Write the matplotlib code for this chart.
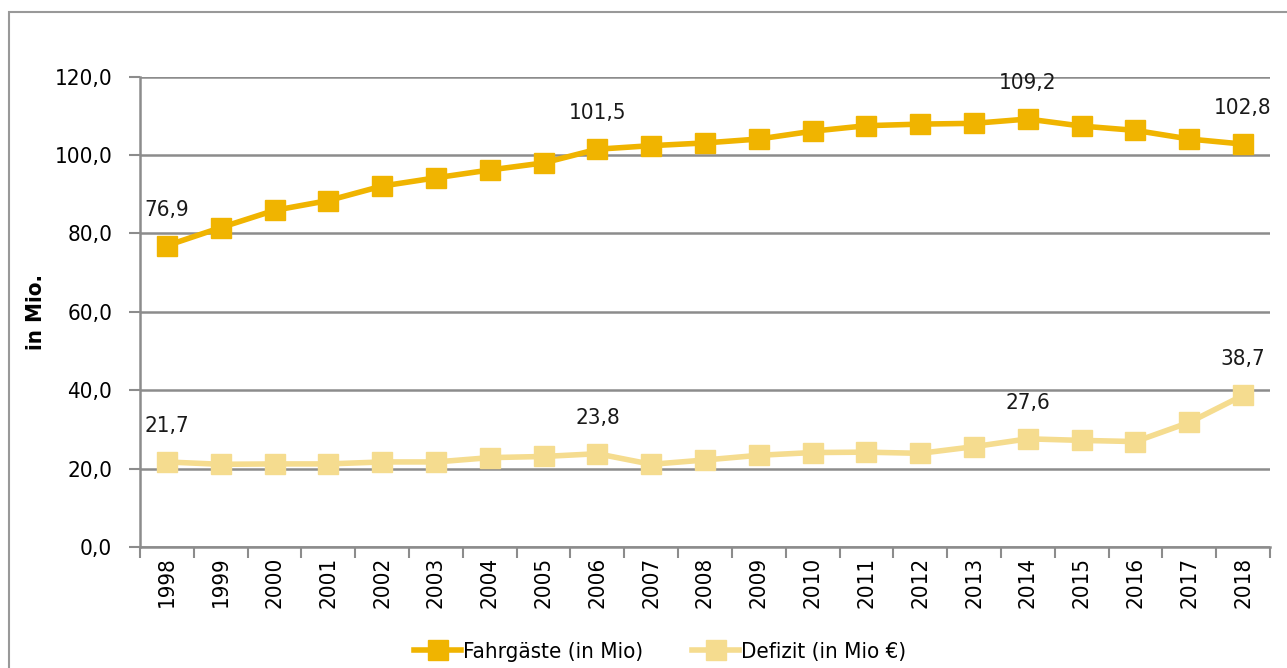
import matplotlib
matplotlib.use("Agg")
import matplotlib.pyplot as plt
from matplotlib.patches import Rectangle

plt.rcParams['font.family'] = ['DejaVu Sans']
plt.rcParams['font.stretch'] = 'condensed'

# Daten
jahre = [str(j) for j in range(1998, 2019)]
fahrgaeste = [76.9, 81.5, 85.9, 88.4, 92.1, 94.2, 96.2, 98.0, 101.5, 102.4, 103.1,
              104.1, 106.1, 107.5, 107.9, 108.1, 109.2, 107.4, 106.3, 104.1, 102.8]
defizit = [21.7, 21.1, 21.2, 21.2, 21.7, 21.7, 22.8, 23.1, 23.8, 21.1, 22.2,
           23.4, 24.1, 24.2, 23.9, 25.6, 27.6, 27.2, 26.9, 31.8, 38.7]
# welche Punkte beschriftet sind
label_idx_f = [0, 8, 16, 20]
label_idx_d = [0, 8, 16, 20]
yticks = [0, 20, 40, 60, 80, 100, 120]

c_dark = '#f0b400'
c_light = '#f5dc8f'
c_grid = '#8c8c8c'
fs = 16

fig = plt.figure(figsize=(12.87, 6.68), dpi=100)
ax = fig.add_axes([140/1287, 1-547/668, 1130/1287, (547-76.7)/668])

x = list(range(len(jahre)))
ax.plot(x, fahrgaeste, color=c_dark, lw=4, marker='s', ms=14, mec=c_dark,
        label='Fahrgäste (in Mio)', zorder=3)
ax.plot(x, defizit, color=c_light, lw=4, marker='s', ms=14, mec=c_light,
        label='Defizit (in Mio €)', zorder=3)

for i in label_idx_f:
    ax.annotate(f'{fahrgaeste[i]:.1f}'.replace('.', ','), (x[i], fahrgaeste[i]),
                xytext=(0, 36), textcoords='offset pixels', ha='center', va='center',
                fontsize=fs, color='#1a1a1a')
for i in label_idx_d:
    ax.annotate(f'{defizit[i]:.1f}'.replace('.', ','), (x[i], defizit[i]),
                xytext=(0, 36), textcoords='offset pixels', ha='center', va='center',
                fontsize=fs, color='#1a1a1a')

ax.set_xlim(-0.5, len(jahre) - 0.5)
ax.set_ylim(0, 120)
ax.set_yticks(yticks)
ax.set_yticklabels([f'{v:.1f}'.replace('.', ',') for v in yticks], fontsize=fs)
ax.set_xticks(x)
ax.set_xticklabels(jahre, rotation=90, fontsize=fs)
ax.set_xticks([i - 0.5 for i in range(len(jahre) + 1)], minor=True)
ax.tick_params(axis='x', which='major', length=0, pad=7)
ax.tick_params(axis='x', which='minor', length=8, width=1.5, color=c_grid)
ax.tick_params(axis='y', length=8, width=1.5, color=c_grid, pad=12)

ax.grid(axis='y', color=c_grid, lw=1.8, zorder=0)
for s in ['top', 'right']:
    ax.spines[s].set_visible(False)
for s in ['left', 'bottom']:
    ax.spines[s].set_color(c_grid)
    ax.spines[s].set_linewidth(1.8)

ax.set_ylabel('in Mio.', fontsize=16, fontweight='bold')
ax.yaxis.set_label_coords(-94/1130, 0.5)

leg = fig.legend(loc='center', bbox_to_anchor=(0.513, 1-652/668), ncol=2, frameon=False,
                 fontsize=fs, handlelength=2.1, handletextpad=0.1, columnspacing=2.2)

# Rahmen um die Grafik
fig.patches.append(Rectangle((9/1287, -0.05), 1.1, 1-12/668+0.05, transform=fig.transFigure,
                             fill=False, edgecolor='#999999', lw=1.5))

fig.savefig('out.png', dpi=100)
